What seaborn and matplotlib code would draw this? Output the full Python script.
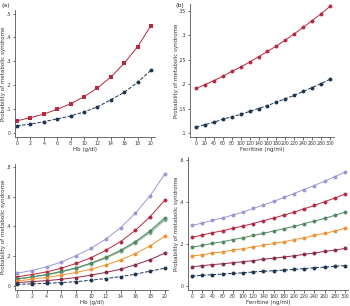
import numpy as np
import pandas as pd
import matplotlib
matplotlib.use("Agg")
import matplotlib.pyplot as plt
import seaborn as sns

# donnees
hb = list(range(0, 21, 2))
ferr = list(range(0, 301, 20))

a_red = [0.051, 0.064, 0.079, 0.099, 0.122, 0.152, 0.188, 0.234, 0.292, 0.361, 0.450]
a_blue = [0.030, 0.037, 0.047, 0.059, 0.071, 0.088, 0.109, 0.139, 0.170, 0.212, 0.263]

b_red = [0.191, 0.199, 0.207, 0.216, 0.226, 0.235, 0.245, 0.256, 0.267, 0.278,
         0.290, 0.303, 0.316, 0.330, 0.344, 0.359]
b_blue = [0.112, 0.117, 0.122, 0.128, 0.133, 0.138, 0.144, 0.150, 0.156, 0.163,
          0.170, 0.177, 0.185, 0.193, 0.201, 0.210]

c_lav = [0.086, 0.104, 0.129, 0.161, 0.204, 0.254, 0.315, 0.392, 0.490, 0.608, 0.755]
c_red = [0.061, 0.077, 0.095, 0.120, 0.152, 0.190, 0.240, 0.299, 0.374, 0.467, 0.578]
c_green = [0.048, 0.061, 0.077, 0.098, 0.122, 0.154, 0.193, 0.240, 0.299, 0.372, 0.460]
c_green2 = [0.047, 0.060, 0.075, 0.096, 0.120, 0.151, 0.189, 0.236, 0.294, 0.365, 0.452]
c_green3 = [0.046, 0.059, 0.074, 0.094, 0.118, 0.148, 0.186, 0.232, 0.289, 0.358, 0.443]
c_orange = [0.034, 0.045, 0.057, 0.073, 0.091, 0.113, 0.141, 0.175, 0.218, 0.270, 0.336]
c_maroon = [0.023, 0.029, 0.036, 0.045, 0.057, 0.073, 0.091, 0.113, 0.143, 0.177, 0.222]
c_navy = [0.011, 0.014, 0.018, 0.023, 0.029, 0.039, 0.050, 0.063, 0.079, 0.100, 0.120]

d_lav = [0.289, 0.300, 0.313, 0.325, 0.338, 0.352, 0.370, 0.386, 0.403, 0.422,
         0.441, 0.460, 0.479, 0.500, 0.521, 0.543]
d_red = [0.232, 0.243, 0.254, 0.263, 0.275, 0.286, 0.298, 0.311, 0.324, 0.338,
         0.352, 0.368, 0.384, 0.402, 0.419, 0.438]
d_green = [0.184, 0.194, 0.203, 0.211, 0.221, 0.230, 0.241, 0.251, 0.262, 0.273,
           0.284, 0.297, 0.310, 0.322, 0.337, 0.352]
d_orange = [0.143, 0.149, 0.157, 0.163, 0.171, 0.178, 0.186, 0.194, 0.203, 0.211,
            0.221, 0.230, 0.241, 0.251, 0.262, 0.275]
d_maroon = [0.092, 0.097, 0.102, 0.106, 0.111, 0.116, 0.121, 0.127, 0.133, 0.138,
            0.144, 0.151, 0.157, 0.165, 0.171, 0.179]
d_navy = [0.048, 0.051, 0.054, 0.057, 0.060, 0.063, 0.067, 0.070, 0.073, 0.076,
          0.079, 0.083, 0.087, 0.090, 0.094, 0.097]

RED = "#b8283f"
NAVY = "#1b3553"
LAV = "#9a98d4"
GREEN = "#4f8a5f"
GREEN_L = "#9bb8a0"
ORANGE = "#ef9232"
MAROON = "#8c2a44"

sns.set_theme(style="ticks")
plt.rcParams['font.family'] = ['DejaVu Sans']

W, H = 350, 306
fig = plt.figure(figsize=(W / 100, H / 100), dpi=100)


def axes_px(left, top, right, bottom):
    return fig.add_axes([left / W, 1 - bottom / H, (right - left) / W, (bottom - top) / H])


def trace(ax, x, y, color, marker="o", dashed=False):
    df = pd.DataFrame({"x": x, "y": y})
    sns.lineplot(data=df, x="x", y="y", ax=ax, color=color, marker=marker,
                 markersize=2.8, markeredgewidth=0, linewidth=0.7,
                 linestyle="--" if dashed else "-")


def style(ax, xticks, yticks, ylabels, xlabel, ylab_x, xlab_y):
    ax.set_xticks(xticks)
    ax.set_xticklabels([str(t) for t in xticks], fontsize=3.3)
    ax.set_yticks(yticks)
    ax.set_yticklabels(ylabels, fontsize=3.3)
    ax.tick_params(length=1.8, width=0.5, pad=1.0, colors="#333333")
    ax.set_xlabel(xlabel, fontsize=4.0, color="#333333", va="center")
    ax.set_ylabel("Probability of metabolic syndrome", fontsize=4.0, color="#333333",
                  va="center")
    # position des titres d'axes en pixels de la figure
    pos = ax.get_position()
    ax.yaxis.set_label_coords((ylab_x / W - pos.x0) / pos.width, 0.5)
    ax.xaxis.set_label_coords(0.5, ((1 - xlab_y / H) - pos.y0) / pos.height)
    for s in ["left", "bottom"]:
        ax.spines[s].set_linewidth(0.6)
        ax.spines[s].set_color("#555555")
    sns.despine(ax=ax)


# (a)
ax = axes_px(15, 10, 155, 137)
trace(ax, hb, a_red, RED, marker="s")
trace(ax, hb, a_blue, NAVY, dashed=True)
ax.set_xlim(-0.3, 20.6)
ax.set_ylim(-0.017, 0.515)
style(ax, hb, [0, 0.1, 0.2, 0.3, 0.4, 0.5], ["0", ".1", ".2", ".3", ".4", ".5"],
      "Hb (g/dl)", 4, 149.5)

# (b)
ax = axes_px(190, 4, 334, 137)
trace(ax, ferr, b_red, RED)
trace(ax, ferr, b_blue, NAVY, dashed=True)
ax.set_xlim(-13.4, 309)
ax.set_ylim(0.0917, 0.364)
style(ax, ferr, [0.1, 0.15, 0.2, 0.25, 0.3, 0.35], [".1", ".15", ".2", ".25", ".3", ".35"],
      "Ferritine (ng/ml)", 177, 149.5)

# (c)
ax = axes_px(15, 164, 168, 290)
trace(ax, hb, c_lav, LAV)
trace(ax, hb, c_red, RED)
trace(ax, hb, c_green3, GREEN_L)
trace(ax, hb, c_green2, GREEN_L)
trace(ax, hb, c_green, GREEN)
trace(ax, hb, c_orange, ORANGE)
trace(ax, hb, c_maroon, MAROON)
trace(ax, hb, c_navy, NAVY, dashed=True)
ax.set_xlim(-0.27, 20.4)
ax.set_ylim(-0.027, 0.82)
style(ax, hb, [0, 0.2, 0.4, 0.6, 0.8], ["0", ".2", ".4", ".6", ".8"],
      "Hb (g/dl)", 4, 302.5)

# (d)
ax = axes_px(188, 157, 348, 290)
trace(ax, ferr, d_lav, LAV)
trace(ax, ferr, d_red, RED)
trace(ax, ferr, d_green, GREEN)
trace(ax, ferr, d_orange, ORANGE)
trace(ax, ferr, d_maroon, MAROON)
trace(ax, ferr, d_navy, NAVY, dashed=True)
ax.set_xlim(-7.8, 306)
ax.set_ylim(-0.019, 0.615)
style(ax, ferr, [0, 0.2, 0.4, 0.6], ["0", ".2", ".4", ".6"],
      "Ferritine (ng/ml)", 177, 302.5)

fig.text(1 / W, 1 - 6 / H, "(a)", fontsize=4.5, color="#333333", va="center")
fig.text(176 / W, 1 - 6 / H, "(b)", fontsize=4.5, color="#333333", va="center")

fig.savefig("out.png", dpi=100)
